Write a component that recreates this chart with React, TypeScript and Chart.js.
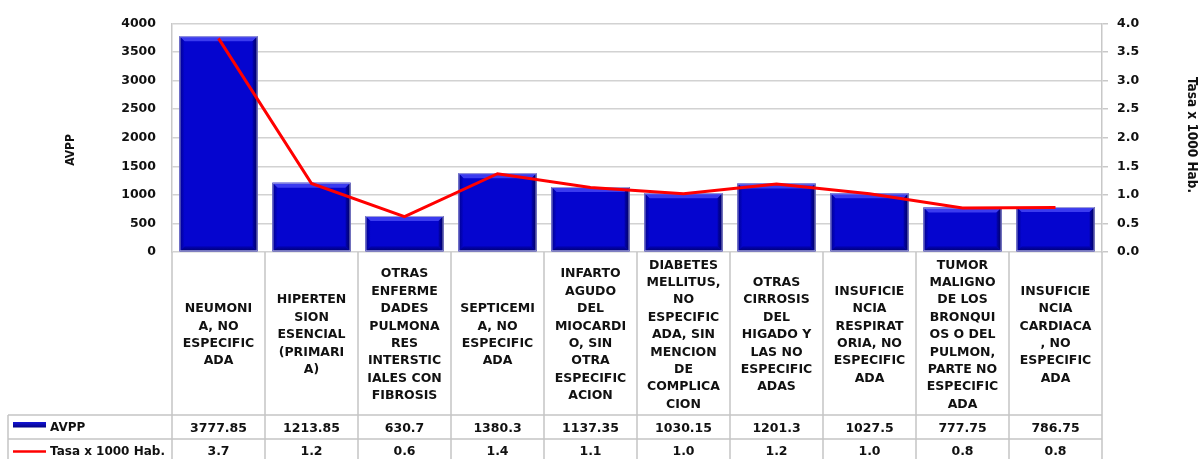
import React, { useEffect, useRef } from "react";
import { Chart, registerables } from "chart.js";

Chart.register(...registerables);

const categories: string[][] = [
  ["NEUMONI", "A, NO", "ESPECIFIC", "ADA"],
  ["HIPERTEN", "SION", "ESENCIAL", "(PRIMARI", "A)"],
  ["OTRAS", "ENFERME", "DADES", "PULMONA", "RES", "INTERSTIC", "IALES CON", "FIBROSIS"],
  ["SEPTICEMI", "A, NO", "ESPECIFIC", "ADA"],
  ["INFARTO", "AGUDO", "DEL", "MIOCARDI", "O, SIN", "OTRA", "ESPECIFIC", "ACION"],
  ["DIABETES", "MELLITUS,", "NO", "ESPECIFIC", "ADA, SIN", "MENCION", "DE", "COMPLICA", "CION"],
  ["OTRAS", "CIRROSIS", "DEL", "HIGADO Y", "LAS NO", "ESPECIFIC", "ADAS"],
  ["INSUFICIE", "NCIA", "RESPIRAT", "ORIA, NO", "ESPECIFIC", "ADA"],
  ["TUMOR", "MALIGNO", "DE LOS", "BRONQUI", "OS O DEL", "PULMON,", "PARTE NO", "ESPECIFIC", "ADA"],
  ["INSUFICIE", "NCIA", "CARDIACA", ", NO", "ESPECIFIC", "ADA"],
];

const avpp: number[] = [3777.85, 1213.85, 630.7, 1380.3, 1137.35, 1030.15, 1201.3, 1027.5, 777.75, 786.75];
const tasa: number[] = [3.74, 1.2, 0.62, 1.37, 1.13, 1.02, 1.19, 1.02, 0.77, 0.78];

const avppLabel = "AVPP";
const tasaLabel = "Tasa x 1000 Hab.";
const leftTicks = { min: 0, max: 4000, step: 500 };
const rightTicks = { min: 0, max: 4, step: 0.5 };

const BOLD = "bold 12.5px 'DejaVu Sans'";
const BOLD12 = "bold 12px 'DejaVu Sans'";
const CAT_FONT = "bold 12.5px 'DejaVu Sans'";
const GRID = "#d2d2d2";
const TABLE_LINE = "#c4c4c4";

const tablePlugin = {
  id: "dataTable",
  afterDatasetDraw(chart: any, args: any) {
    if (args.index !== 0) return;
    const ctx = chart.ctx;
    const meta = chart.getDatasetMeta(0);
    ctx.save();
    meta.data.forEach((bar: any) => {
      const w = bar.width;
      const l = bar.x - w / 2;
      const r = bar.x + w / 2;
      const t = bar.y;
      const b = bar.base;
      const s = 5;
      ctx.fillStyle = "#3b3bef";
      ctx.beginPath();
      ctx.moveTo(l, t); ctx.lineTo(r, t); ctx.lineTo(r - s, t + s); ctx.lineTo(l + s, t + s); ctx.closePath(); ctx.fill();
      const gr = ctx.createLinearGradient(r - s, 0, r, 0);
      gr.addColorStop(0, "#0202b0");
      gr.addColorStop(1, "#00005a");
      ctx.fillStyle = gr;
      ctx.beginPath();
      ctx.moveTo(r, t); ctx.lineTo(r, b); ctx.lineTo(r - s, b - s); ctx.lineTo(r - s, t + s); ctx.closePath(); ctx.fill();
      const gb = ctx.createLinearGradient(0, b - s, 0, b);
      gb.addColorStop(0, "#0202b8");
      gb.addColorStop(1, "#000070");
      ctx.fillStyle = gb;
      ctx.beginPath();
      ctx.moveTo(l, b); ctx.lineTo(r, b); ctx.lineTo(r - s, b - s); ctx.lineTo(l + s, b - s); ctx.closePath(); ctx.fill();
      const gl = ctx.createLinearGradient(l, 0, l + s, 0);
      gl.addColorStop(0, "#00008a");
      gl.addColorStop(1, "#0404cc");
      ctx.fillStyle = gl;
      ctx.beginPath();
      ctx.moveTo(l, t); ctx.lineTo(l, b); ctx.lineTo(l + s, b - s); ctx.lineTo(l + s, t + s); ctx.closePath(); ctx.fill();
      ctx.strokeStyle = "#a0a0d8";
      ctx.lineWidth = 1;
      ctx.strokeRect(l + 0.5, t + 0.5, w - 1, b - t - 1);
    });
    ctx.restore();
  },
  afterDraw(chart: any) {
    const ctx = chart.ctx;
    const xs = chart.scales.x;
    const area = chart.chartArea;
    const n = categories.length;
    const bounds: number[] = [];
    for (let i = 0; i <= n; i++) {
      if (i === 0) bounds.push(area.left);
      else if (i === n) bounds.push(area.right);
      else bounds.push((xs.getPixelForValue(i - 1) + xs.getPixelForValue(i)) / 2);
    }
    const top = area.bottom;
    const row1 = 415;
    const row2 = 439;
    const bottom = chart.height;
    const tableLeft = 8;

    ctx.save();
    ctx.strokeStyle = TABLE_LINE;
    ctx.lineWidth = 1.5;
    bounds.forEach((bx) => {
      ctx.beginPath();
      ctx.moveTo(bx, top);
      ctx.lineTo(bx, bottom);
      ctx.stroke();
    });
    ctx.beginPath();
    ctx.moveTo(tableLeft, row1);
    ctx.lineTo(tableLeft, bottom);
    ctx.stroke();
    [row1, row2].forEach((ry) => {
      ctx.beginPath();
      ctx.moveTo(tableLeft, ry);
      ctx.lineTo(area.right, ry);
      ctx.stroke();
    });

    ctx.fillStyle = "#111";
    ctx.textAlign = "center";
    ctx.textBaseline = "middle";
    ctx.font = CAT_FONT;
    const lh = 17.4;
    const cy = 335;
    categories.forEach((lines, i) => {
      const cx = xs.getPixelForValue(i);
      const start = cy - ((lines.length - 1) * lh) / 2;
      lines.forEach((ln, j) => ctx.fillText(ln, cx, start + j * lh));
    });

    ctx.font = BOLD;
    avpp.forEach((v, i) => ctx.fillText(String(v), xs.getPixelForValue(i), 429));
    tasa.forEach((v, i) => ctx.fillText(v.toFixed(1), xs.getPixelForValue(i), 451.5));

    const g = ctx.createLinearGradient(0, 422, 0, 428);
    g.addColorStop(0, "#1515d8");
    g.addColorStop(1, "#00007a");
    ctx.fillStyle = g;
    ctx.fillRect(13, 422, 33, 5.5);
    ctx.strokeStyle = "#ff0000";
    ctx.lineWidth = 2.5;
    ctx.beginPath();
    ctx.moveTo(13, 451.5);
    ctx.lineTo(46, 451.5);
    ctx.stroke();
    ctx.fillStyle = "#111";
    ctx.textAlign = "left";
    ctx.font = BOLD12;
    ctx.fillText(avppLabel, 50, 428);
    ctx.fillText(tasaLabel, 50, 451.5);

    ctx.save();
    ctx.translate(71, 150);
    ctx.rotate(-Math.PI / 2);
    ctx.textAlign = "center";
    ctx.font = "bold 12px 'DejaVu Sans Condensed', 'DejaVu Sans'";
    ctx.fillText(avppLabel, 0, 0);
    ctx.restore();

    ctx.save();
    ctx.translate(1191, 135);
    ctx.rotate(Math.PI / 2);
    ctx.textAlign = "center";
    ctx.font = "bold 13.5px 'DejaVu Sans Condensed', 'DejaVu Sans'";
    ctx.fillText(tasaLabel, 0, 0);
    ctx.restore();

    ctx.restore();
  },
};

export default function App() {
  const ref = useRef<HTMLCanvasElement>(null);
  useEffect(() => {
    if (!ref.current) return;
    const chart = new Chart(ref.current, {
      type: "bar",
      data: {
        labels: categories.map((c) => c.join(" ")),
        datasets: [
          {
            type: "bar",
            label: avppLabel,
            data: avpp,
            yAxisID: "y",
            backgroundColor: "#0505cf",
            borderWidth: 0,
            barPercentage: 0.84,
            categoryPercentage: 1,
            order: 1,
          },
          {
            type: "line",
            label: tasaLabel,
            data: tasa,
            yAxisID: "y1",
            borderColor: "#ff0000",
            borderWidth: 3,
            pointRadius: 0,
            tension: 0,
            order: 0,
          },
        ],
      } as any,
      options: {
        responsive: false,
        animation: false,
        devicePixelRatio: 1,
        layout: { padding: { top: 21, bottom: 207, left: 0, right: 0 } },
        plugins: { legend: { display: false }, tooltip: { enabled: false } },
        scales: {
          x: { display: false, offset: true },
          y: {
            position: "left",
            min: leftTicks.min,
            max: leftTicks.max,
            ticks: {
              stepSize: leftTicks.step,
              color: "#111",
              font: { family: "'DejaVu Sans'", weight: "bold", size: 12.5 },
              padding: 16,
              callback: (v: any) => String(v),
            },
            grid: { color: GRID, lineWidth: 1.5, drawTicks: false },
            border: { color: "#c8c8c8", width: 1.5 },
            afterFit: (s: any) => { s.width = 172; },
          },
          y1: {
            position: "right",
            min: rightTicks.min,
            max: rightTicks.max,
            ticks: {
              stepSize: rightTicks.step,
              color: "#111",
              font: { family: "'DejaVu Sans'", weight: "bold", size: 12.5 },
              padding: 9,
              callback: (v: any) => Number(v).toFixed(1),
            },
            grid: { drawOnChartArea: false, color: "#c8c8c8", lineWidth: 1.5, tickLength: 6 },
            border: { color: "#c8c8c8", width: 1.5 },
            afterFit: (s: any) => { s.width = 96; },
          },
        },
      } as any,
      plugins: [tablePlugin],
    });
    return () => chart.destroy();
  }, []);
  return (
    <div style={{ position: "fixed", left: 0, top: 0, width: 1198, height: 459, background: "#fff" }}>
      <canvas ref={ref} width={1198} height={459} style={{ width: 1198, height: 459, display: "block" }} />
    </div>
  );
}
